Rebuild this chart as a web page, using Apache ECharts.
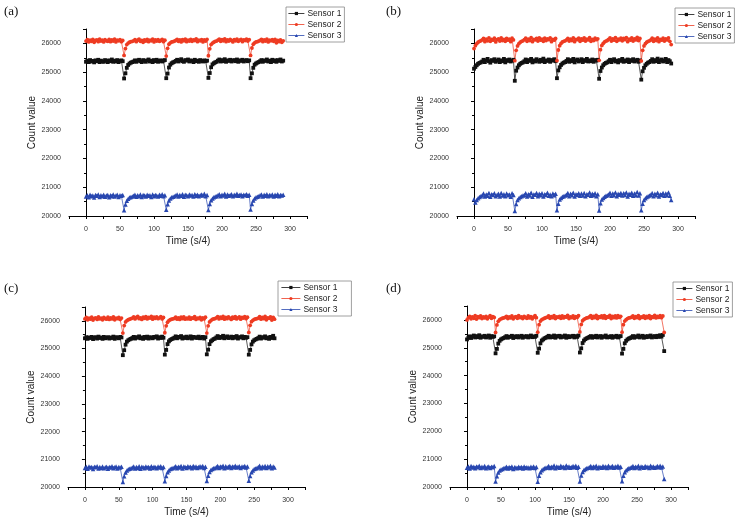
<!DOCTYPE html>
<html>
<head>
<meta charset="utf-8">
<script src="https://cdn.jsdelivr.net/npm/echarts@6/dist/echarts.min.js"></script>
<style>
  html, body { margin: 0; padding: 0; background: #fff; }
  #chart { width: 738px; height: 518px; }
</style>
</head>
<body>
<div id="chart"></div>
<script>
// samples are read every 2 time units (s/4), starting at 0
const TIME_STEP = 2
const seriesNames = ['Sensor 1', 'Sensor 2', 'Sensor 3']
const panelLabels = ['(a)', '(b)', '(c)', '(d)']
const xTickLabels = [0, 50, 100, 150, 200, 250, 300]

// panel (a)
const a1 = [25360,25400,25350,25420,25370,25390,25340,25410,25380,25430,25350,25400,25370,25360,25420,25390,25350,25410,25380,25440,25360,25400,25370,25420,25350,25390,25410,25380,
  24780,24960,25150,25250,25300,25330,25350,
  25370,25410,25360,25400,25430,25380,25350,25420,25390,25360,25410,25440,25370,25400,25350,25420,25380,25430,25360,25390,25410,25370,25400,25420,
  24790,24950,25160,25260,25310,25340,25360,
  25390,25430,25370,25410,25450,25380,25360,25420,25400,25440,25370,25410,25390,25350,25430,25380,25400,25360,25420,25390,25370,25410,25380,25400,
  24800,24970,25170,25270,25310,25340,25360,
  25400,25440,25370,25420,25380,25450,25360,25410,25390,25430,25370,25400,25420,25380,25440,25360,25410,25390,25430,25370,25400,25420,25380,25410,
  24790,24960,25150,25260,25300,25330,25350,
  25380,25420,25360,25410,25390,25440,25370,25400,25350,25430,25380,25410,25360,25420,25390,25440,25370,25400]
const a2 = [26080,26130,26050,26110,26070,26140,26040,26100,26120,26060,26150,26080,26110,26050,26130,26090,26070,26140,26060,26120,26080,26150,26050,26110,26090,26130,26060,26100,
  25580,25820,25960,26010,26040,26060,26070,
  26090,26130,26060,26110,26150,26070,26100,26040,26120,26080,26140,26060,26110,26090,26150,26050,26120,26080,26130,26070,26100,26140,26060,26110,
  25560,25830,25970,26020,26050,26060,26080,
  26100,26140,26070,26120,26050,26130,26090,26150,26060,26110,26080,26140,26070,26120,26100,26160,26060,26110,26090,26130,26050,26120,26080,26140,
  25570,25810,25960,26010,26040,26070,26080,
  26110,26150,26070,26130,26090,26160,26060,26120,26080,26140,26100,26050,26130,26090,26150,26070,26110,26140,26060,26120,26100,26150,26080,26130,
  25580,25840,25970,26020,26050,26060,26080,
  26100,26140,26060,26120,26080,26150,26050,26110,26090,26130,26070,26140,26020,26100,26060,26120,26040,26090]
const a3 = [20680,20720,20650,20740,20690,20710,20640,20730,20700,20750,20660,20720,20690,20740,20670,20710,20730,20650,20720,20690,20750,20680,20710,20740,20660,20720,20700,20730,
  20200,20400,20530,20600,20640,20660,20680,
  20700,20740,20670,20720,20690,20750,20660,20730,20710,20680,20740,20700,20720,20660,20750,20690,20730,20710,20680,20740,20700,20760,20690,20720,
  20220,20410,20540,20610,20650,20670,20690,
  20710,20750,20680,20730,20700,20760,20670,20740,20720,20690,20750,20710,20730,20680,20760,20700,20740,20690,20720,20750,20710,20770,20690,20730,
  20210,20420,20550,20610,20650,20680,20690,
  20720,20760,20690,20740,20710,20770,20680,20750,20700,20730,20760,20690,20740,20710,20770,20700,20730,20750,20690,20740,20720,20760,20700,20740,
  20230,20420,20540,20610,20650,20670,20690,
  20720,20750,20680,20740,20700,20760,20690,20730,20710,20750,20680,20740,20700,20760,20690,20730,20710,20740]

// panel (b)
const b1 = [25120,25180,25240,25290,25320,25340,
  25370,25430,25350,25410,25460,25380,25330,25420,25390,25450,25360,25400,25440,25350,25410,25380,25460,25340,25420,25390,25440,25370,25400,25430,
  24700,25050,25160,25240,25290,25320,25340,
  25380,25440,25350,25420,25390,25460,25340,25410,25370,25450,25400,25360,25430,25380,25470,25350,25410,25390,25440,25360,25420,25400,25450,25380,
  24790,25060,25170,25250,25300,25330,25350,
  25390,25450,25360,25420,25380,25460,25340,25410,25440,25370,25400,25450,25350,25420,25390,25460,25370,25410,25380,25440,25360,25420,25400,25430,
  24770,25040,25160,25240,25290,25320,25340,
  25380,25430,25350,25410,25450,25370,25400,25340,25420,25390,25460,25360,25410,25380,25440,25350,25420,25390,25450,25370,25400,25430,25360,25410,
  24740,25030,25150,25240,25290,25330,25350,
  25390,25450,25360,25420,25380,25470,25350,25410,25440,25370,25400,25460,25350,25420,25380,25300]
const b2 = [25820,25920,25990,26040,26070,26090,
  26120,26170,26060,26150,26090,26190,26070,26140,26110,26180,26050,26130,26160,26080,26190,26100,26140,26070,26170,26110,26150,26060,26180,26120,
  25400,25760,25910,25990,26040,26070,26090,
  26130,26180,26070,26150,26100,26200,26060,26140,26120,26170,26080,26190,26110,26150,26070,26180,26100,26160,26130,26190,26060,26140,26110,26170,
  25400,25770,25920,26000,26050,26070,26090,
  26120,26170,26080,26150,26100,26190,26060,26140,26130,26180,26070,26160,26110,26190,26080,26150,26120,26200,26070,26140,26100,26180,26130,26160,
  25410,25780,25930,26000,26050,26080,26100,
  26140,26190,26080,26160,26110,26200,26070,26150,26120,26180,26090,26170,26130,26200,26060,26150,26110,26190,26080,26160,26120,26210,26100,26170,
  25390,25760,25910,25990,26040,26070,26090,
  26120,26180,26070,26150,26100,26190,26060,26140,26110,26180,26080,26160,26120,26190,26070,25960]
const b3 = [20580,20470,20560,20620,20660,20690,
  20720,20780,20680,20750,20700,20800,20670,20760,20730,20790,20690,20740,20770,20680,20800,20710,20760,20690,20780,20720,20750,20670,20790,20730,
  20170,20420,20560,20620,20660,20690,20710,
  20730,20790,20680,20760,20710,20810,20670,20750,20740,20800,20690,20770,20720,20790,20680,20760,20730,20810,20700,20750,20690,20780,20720,20770,
  20200,20430,20570,20630,20670,20690,20710,
  20740,20800,20690,20770,20720,20810,20680,20760,20730,20790,20700,20780,20710,20800,20690,20760,20740,20820,20700,20770,20720,20790,20690,20760,
  20190,20440,20570,20630,20670,20700,20720,
  20750,20810,20700,20780,20720,20820,20690,20770,20740,20800,20710,20790,20730,20820,20680,20770,20740,20810,20700,20780,20720,20830,20710,20790,
  20200,20430,20560,20620,20660,20690,20710,
  20740,20800,20690,20770,20720,20810,20680,20760,20730,20800,20700,20780,20720,20820,20700,20560]

// panel (c)
const c1 = [25370,25410,25350,25400,25380,25420,25340,25390,25410,25360,25430,25380,25400,25350,25420,25370,25390,25410,25360,25400,25380,25430,25350,25410,25390,25370,25420,25400,
  24760,24940,25140,25250,25300,25330,25350,
  25380,25420,25360,25410,25390,25440,25370,25400,25350,25420,25380,25430,25360,25410,25390,25370,25420,25400,25440,25360,25410,25380,25430,25390,
  24780,24950,25160,25260,25310,25340,25360,
  25390,25440,25370,25420,25400,25450,25360,25410,25380,25430,25370,25400,25440,25360,25420,25390,25410,25380,25430,25370,25400,25420,25360,25410,
  24790,24960,25160,25260,25300,25340,25360,
  25400,25450,25380,25420,25390,25460,25370,25410,25440,25380,25400,25430,25370,25420,25390,25450,25360,25410,25400,25440,25370,25420,25390,25410,
  24780,24950,25150,25250,25300,25330,25350,
  25380,25430,25360,25410,25390,25440,25370,25400,25350,25420,25380,25460,25370]
const c2 = [26070,26120,26040,26100,26060,26130,26030,26090,26110,26050,26140,26070,26100,26040,26120,26080,26060,26130,26050,26110,26070,26140,26040,26100,26080,26120,26050,26100,
  25560,25830,25960,26010,26040,26060,26080,
  26100,26140,26070,26120,26160,26080,26110,26050,26130,26090,26150,26070,26120,26100,26160,26060,26130,26090,26140,26080,26110,26150,26070,26120,
  25570,25820,25950,26010,26040,26060,26070,
  26090,26130,26060,26110,26050,26130,26080,26140,26060,26100,26070,26130,26060,26110,26090,26150,26050,26100,26080,26120,26040,26110,26070,26130,
  25560,25820,25960,26010,26050,26070,26080,
  26110,26150,26070,26130,26090,26160,26060,26120,26080,26140,26100,26050,26130,26090,26150,26070,26110,26140,26060,26120,26100,26150,26080,26130,
  25580,25840,25970,26020,26050,26070,26080,
  26100,26150,26060,26120,26080,26160,26040,26110,26090,26140,26030,26120,26060]
const c3 = [20690,20730,20660,20740,20700,20720,20650,20730,20710,20750,20670,20720,20690,20740,20680,20710,20730,20660,20720,20700,20750,20680,20710,20740,20670,20720,20700,20730,
  20180,20390,20520,20600,20640,20660,20680,
  20700,20740,20670,20720,20690,20750,20660,20730,20710,20680,20740,20700,20720,20670,20750,20690,20730,20710,20680,20740,20700,20750,20690,20720,
  20210,20400,20530,20600,20650,20670,20690,
  20710,20750,20680,20730,20700,20760,20670,20740,20720,20690,20750,20710,20730,20680,20760,20700,20740,20690,20720,20750,20710,20760,20690,20730,
  20220,20410,20540,20610,20650,20680,20690,
  20720,20760,20690,20740,20710,20770,20680,20750,20700,20730,20760,20690,20740,20710,20770,20700,20730,20750,20690,20740,20720,20760,20700,20740,
  20230,20400,20530,20600,20650,20670,20690,
  20720,20770,20680,20740,20700,20760,20690,20750,20710,20770,20680,20740,20700]

// panel (d)
const d1 = [25300,25360,25410,25350,25400,25440,25370,25420,25380,25450,25360,25410,25390,25430,25370,25400,25440,25360,25420,25390,25410,
  24800,24960,25150,25250,25300,25330,25350,
  25380,25420,25360,25400,25390,25430,25350,25410,25380,25420,25370,25400,25430,25360,25410,25390,25420,25370,25400,25440,25380,25410,25390,25430,
  24820,24970,25160,25260,25300,25340,25360,
  25390,25430,25370,25410,25380,25440,25360,25420,25400,25430,25370,25410,25390,25440,25360,25420,25380,25410,25400,25430,25370,25420,25390,25440,
  24830,24980,25170,25260,25310,25340,25360,
  25390,25420,25360,25410,25380,25430,25370,25400,25420,25360,25410,25390,25440,25370,25400,25380,25420,25360,25410,25390,25430,25370,25400,25420,
  24790,24960,25160,25250,25300,25330,25350,
  25380,25420,25360,25410,25390,25440,25370,25400,25430,25360,25410,25380,25420,25390,25440,25370,25400,25420,25380,25430,25390,25450,25400,25460,
  24880]
const d2 = [26000,26080,26130,26040,26110,26060,26150,26030,26120,26080,26140,26050,26110,26070,26130,26040,26100,26150,26060,26120,26090,
  25550,25820,25950,26010,26040,26060,26070,
  26090,26130,26050,26110,26070,26140,26040,26100,26120,26060,26150,26080,26110,26050,26130,26090,26060,26140,26070,26120,26040,26100,26150,26080,
  25560,25830,25960,26010,26040,26060,26080,
  26100,26140,26060,26120,26080,26150,26050,26110,26090,26130,26060,26140,26070,26120,26100,26160,26050,26110,26080,26140,26060,26120,26090,26150,
  25570,25840,25970,26020,26050,26070,26080,
  26110,26150,26060,26130,26080,26160,26050,26120,26090,26140,26070,26150,26060,26120,26100,26160,26050,26130,26080,26140,26070,26150,26090,26130,
  25560,25830,25960,26010,26050,26070,26080,
  26100,26140,26060,26120,26080,26150,26050,26110,26090,26140,26060,26130,26080,26150,26050,26120,26090,26160,26070,26130,26090,26150,26080,26140,
  25550]
const d3 = [20690,20740,20660,20750,20700,20730,20670,20740,20710,20760,20680,20730,20700,20750,20670,20720,20740,20680,20730,20710,20750,
  20200,20390,20520,20590,20630,20650,20670,
  20690,20730,20660,20720,20680,20740,20650,20710,20700,20670,20730,20690,20720,20660,20740,20680,20710,20700,20670,20730,20690,20740,20680,20720,
  20190,20400,20530,20600,20650,20670,20690,
  20710,20750,20680,20730,20700,20770,20670,20740,20720,20690,20760,20710,20730,20680,20770,20700,20740,20690,20720,20750,20710,20760,20690,20730,
  20200,20410,20540,20610,20650,20670,20690,
  20710,20750,20680,20740,20700,20760,20670,20730,20710,20690,20750,20700,20740,20680,20760,20700,20730,20750,20690,20740,20710,20760,20700,20730,
  20210,20400,20530,20600,20650,20670,20690,
  20710,20750,20680,20730,20700,20760,20670,20740,20720,20690,20750,20710,20730,20680,20760,20700,20740,20690,20720,20750,20710,20760,20700,20740,
  20290]

const panelData = [[a1, a2, a3], [b1, b2, b3], [c1, c2, c3], [d1, d2, d3]]

// layout of the four sub plots
const panels = [
  { grid: { left: 69, top: 29, width: 238, height: 187 }, legend: { left: 286, top: 7, line: 16, pad: [2, 3, 2, 2] }, label: [4, 5] },
  { grid: { left: 457, top: 29, width: 238, height: 187 }, legend: { left: 675, top: 8, line: 16, pad: [2, 3, 2, 3] }, label: [386, 5] },
  { grid: { left: 68, top: 307, width: 237, height: 185 }, legend: { left: 278, top: 281, line: 19, pad: [2, 14, 2, 3] }, label: [4, 282] },
  { grid: { left: 450, top: 306, width: 238, height: 186 }, legend: { left: 673, top: 282, line: 16, pad: [2, 3, 2, 3] }, label: [386, 282] }
]

const colors = ['#111111', '#ee3b22', '#2847b0']
const symbols = ['rect', 'circle', 'triangle']
const font = '"Liberation Sans", Arial, sans-serif'

function toPoints(values) {
  return values.map((v, i) => [i * TIME_STEP, v])
}

const grids = []
const xAxes = []
const yAxes = []
const legends = []
const series = []
const graphics = []

panels.forEach((p, k) => {
  grids.push(p.grid)
  xAxes.push({
    type: 'value',
    gridIndex: k,
    min: -25,
    max: 325,
    interval: 25,
    name: 'Time (s/4)',
    nameLocation: 'middle',
    nameGap: 20,
    nameTextStyle: { fontFamily: font, fontSize: 10, color: '#222' },
    axisLine: { lineStyle: { color: '#000', width: 1 } },
    axisTick: { length: 3, lineStyle: { color: '#000' } },
    axisLabel: {
      fontFamily: font,
      fontSize: 7,
      color: '#333',
      margin: 10,
      formatter: v => (xTickLabels.indexOf(v) >= 0 ? String(v) : '')
    },
    splitLine: { show: false }
  })
  yAxes.push({
    type: 'value',
    gridIndex: k,
    min: 20000,
    max: 26500,
    interval: 1000,
    name: 'Count value',
    nameLocation: 'middle',
    nameGap: 28,
    nameTextStyle: { fontFamily: font, fontSize: 10, color: '#222' },
    axisLine: { show: true, lineStyle: { color: '#000', width: 1 } },
    axisTick: { show: true, length: 3, lineStyle: { color: '#000' } },
    minorTick: { show: true, splitNumber: 2, length: 2, lineStyle: { color: '#000' } },
    axisLabel: {
      fontFamily: font,
      fontSize: 7,
      color: '#333',
      margin: 8,
      showMaxLabel: false,
      formatter: v => String(v)
    },
    splitLine: { show: false }
  })
  legends.push({
    left: p.legend.left,
    top: p.legend.top,
    orient: 'vertical',
    data: seriesNames,
    itemWidth: p.legend.line,
    itemHeight: 4,
    itemGap: 2,
    padding: p.legend.pad,
    borderColor: '#888',
    borderWidth: 0.8,
    backgroundColor: '#fff',
    lineStyle: { width: 0.8 },
    textStyle: { fontFamily: font, fontSize: 8.5, color: '#222', padding: [0, 0, 0, -2] }
  })
  panelData[k].forEach((vals, s) => {
    series.push({
      name: seriesNames[s],
      type: 'line',
      xAxisIndex: k,
      yAxisIndex: k,
      data: toPoints(vals),
      symbol: symbols[s],
      symbolSize: s === 2 ? 4.5 : 3.8,
      showSymbol: true,
      color: colors[s],
      lineStyle: { width: 0.7, color: colors[s] },
      itemStyle: { color: colors[s] }
    })
  })
  graphics.push({
    type: 'text',
    left: p.label[0],
    top: p.label[1],
    style: { text: panelLabels[k], font: '13px "Liberation Serif", "Times New Roman", serif', fill: '#111' }
  })
})

const chart = echarts.init(document.getElementById('chart'))
chart.setOption({
  animation: false,
  backgroundColor: '#fff',
  grid: grids,
  xAxis: xAxes,
  yAxis: yAxes,
  legend: legends,
  series: series,
  graphic: graphics
})
</script>
</body>
</html>
